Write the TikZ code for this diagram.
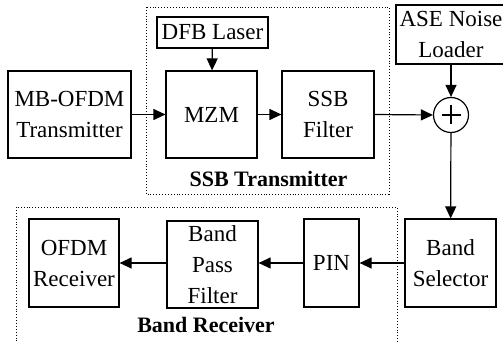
\documentclass[tikz,border=0pt]{standalone}
\usepackage{fontspec}
\setmainfont{Liberation Serif}
\usetikzlibrary{arrows.meta,calc}
\begin{document}
\begin{tikzpicture}[x=1pt,y=-1pt,
  blk/.style={draw,line width=1.2pt,inner sep=0pt,align=center,font=\fontsize{23}{31}\selectfont},
  grp/.style={draw,dotted,line width=0.9pt},
  lbl/.style={inner sep=0pt,anchor=base,font=\fontsize{22}{31}\selectfont\bfseries},
  conn/.style={line width=1.2pt,-{Triangle[length=12pt,width=11pt]}}]
\useasboundingbox (0,0) rectangle (503,342);
% groups
\draw[grp] (146,7) rectangle (389,194);
\draw[grp] (16,207) rectangle (397,345);
\node[lbl] (lssb) at (268.5,186) {SSB Transmitter};
\node[lbl] (lbr) at (206,332) {Band Receiver};
% blocks
\node[blk,minimum width=123pt,minimum height=87pt] (tx) at (69.5,114.5) {MB-OFDM\\Transmitter};
\node[blk,minimum width=91pt,minimum height=87pt] (mzm) at (211.5,114.5) {MZM};
\node[blk,minimum width=111pt,minimum height=31pt] (dfb) at (212.5,32.5) {DFB Laser};
\node[blk,minimum width=92pt,minimum height=87pt] (ssb) at (328,114.5) {SSB\\Filter};
\node[blk,minimum width=110pt,minimum height=59pt] (ase) at (451,34.5) {ASE Noise\\Loader};
\node[draw,line width=1.2pt,circle,minimum size=35pt,inner sep=0pt] (sum) at (451,115) {};
\draw[line width=1.2pt] ($(sum.center)+(-9.5,0)$) -- ($(sum.center)+(9.5,0)$);
\draw[line width=1.2pt] ($(sum.center)+(0,-9.5)$) -- ($(sum.center)+(0,9.5)$);
\node[blk,minimum width=91pt,minimum height=88pt] (bs) at (450.5,263) {Band\\Selector};
\node[blk,minimum width=55pt,minimum height=88pt] (pin) at (331.5,263) {PIN};
\node[blk,minimum width=91pt,minimum height=87pt] (bpf) at (212.5,264.5) {Band\\Pass\\Filter};
\node[blk,minimum width=90pt,minimum height=88pt] (rx) at (74,263) {OFDM\\Receiver};
% connectors
\draw[conn] (tx) -- (mzm);
\draw[conn] (dfb) -- (mzm);
\draw[conn] (mzm) -- (ssb);
\draw[conn] (ssb.east) -- (sum.west);
\draw[conn] (ase) -- (sum);
\draw[conn] (sum) -- (bs);
\draw[conn] (bs.west) -- (pin.east);
\draw[conn] (pin.west) -- (pin.west -| bpf.east);
\draw[conn] (bpf.west |- rx.east) -- (rx.east);
\end{tikzpicture}
\end{document}
